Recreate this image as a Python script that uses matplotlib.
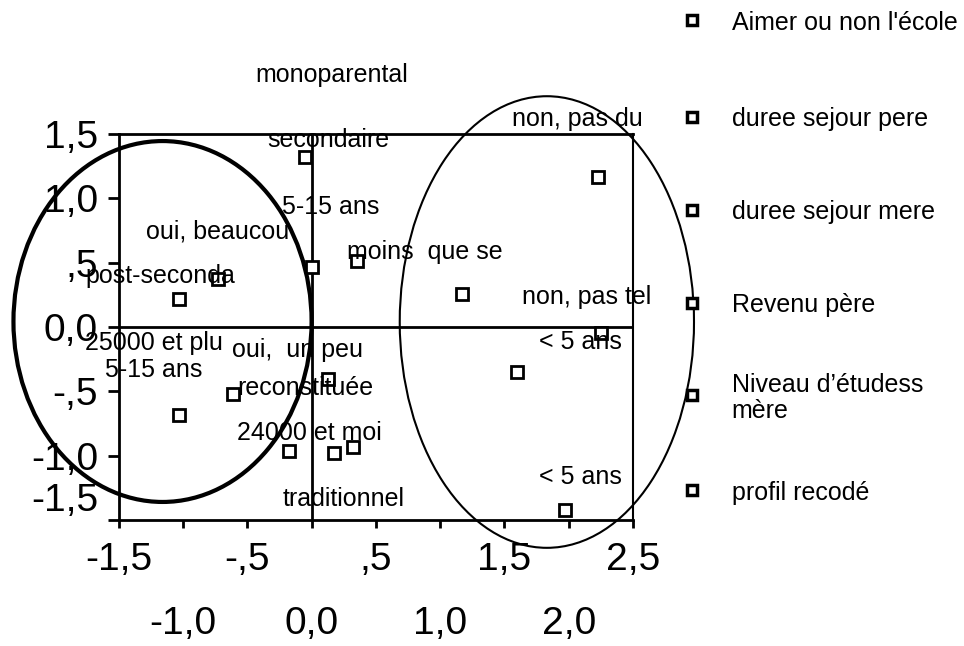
import numpy as np
import matplotlib.pyplot as plt
from matplotlib.patches import Ellipse

plt.rcParams['font.family'] = ['Liberation Sans', 'DejaVu Sans']

# coordonnees des points (dimension 1, dimension 2)
pt_x = [-0.05, 0.00, -0.73, -1.03, 2.23, 0.35, 1.17, 2.25, 1.60, 0.13, -0.61, -0.18, 0.17, 0.32, 1.97, -1.03]
pt_y = [1.32, 0.47, 0.37, 0.22, 1.17, 0.51, 0.26, -0.05, -0.35, -0.40, -0.52, -0.96, -0.98, -0.93, -1.42, -0.68]

# etiquettes des modalites
lab_text = ["monoparental", "secondaire", "non, pas du", "5-15 ans", "oui, beaucou",
            "moins  que se", "post-seconda", "non, pas tel", "25000 et plu", "oui,  un peu",
            "< 5 ans", "5-15 ans", "reconstituée", "24000 et moi", "< 5 ans", "traditionnel"]
lab_x = [0.155, 0.13, 2.07, 0.15, -0.73, 0.88, -1.18, 2.14, -1.23, -0.11, 2.09, -1.23, -0.05, -0.02, 2.09, 0.25]
lab_y = [1.96, 1.45, 1.62, 0.93, 0.74, 0.58, 0.40, 0.23, -0.125, -0.18, -0.115, -0.335, -0.47, -0.82, -1.165, -1.34]

legend_names = ["Aimer ou non l'école", "duree sejour pere", "duree sejour mere",
                "Revenu père", "Niveau d\u2019étudess\nmère", "profil recodé"]

xt_major = [-1.5, -0.5, 0.5, 1.5, 2.5]
xt_major_lab = ["-1,5", "-,5", ",5", "1,5", "2,5"]
xt_minor = [-1.0, 0.0, 1.0, 2.0]
xt_minor_lab = ["-1,0", "0,0", "1,0", "2,0"]
yt = [-1.5, -1.0, -0.5, 0.0, 0.5, 1.0, 1.5]
yt_lab = ["", "-1,0", "-,5", "0,0", ",5", "1,0", "1,5"]

fig = plt.figure(figsize=(9.64, 6.46), dpi=100)
ax = fig.add_axes([0.1234, 0.195, 0.5332, 0.5975])

ax.plot(pt_x, pt_y, 's', ms=9, mfc='white', mec='black', mew=2, zorder=5)
for t, x, y in zip(lab_text, lab_x, lab_y):
    ax.text(x, y, t, fontsize=18, ha='center', va='center', clip_on=False, zorder=6)

ax.axhline(0, color='black', lw=2)
ax.axvline(0, color='black', lw=2)

ax.add_patch(Ellipse((-1.161, 0.043), 2.32, 2.805, fill=False, ec='black', lw=3, clip_on=False))
ax.add_patch(Ellipse((1.83, 0.039), 2.29, 3.51, fill=False, ec='black', lw=1.5, clip_on=False))

ax.set_xlim(-1.5, 2.5)
ax.set_ylim(-1.5, 1.5)
for s in ax.spines.values():
    s.set_linewidth(2)
ax.spines['right'].set_linewidth(1.5)

ax.set_xticks(xt_major)
ax.set_xticklabels(xt_major_lab)
ax.set_xticks(xt_minor, minor=True)
ax.set_xticklabels(xt_minor_lab, minor=True)
ax.tick_params(axis='x', which='both', direction='out', length=6, width=2, labelsize=28)
ax.tick_params(axis='x', which='major', pad=10)
ax.tick_params(axis='x', which='minor', pad=56)
ax.set_yticks(yt)
ax.set_yticklabels(yt_lab)
ax.tick_params(axis='y', direction='out', length=8, width=2, labelsize=28, pad=7)
# le -1,5 est decale vers le haut dans l'original
ax.annotate("-1,5", xy=(0, -1.5), xycoords=('axes fraction', 'data'),
            xytext=(-21, 19), textcoords='offset pixels', ha='right', va='center',
            fontsize=28, annotation_clip=False)

# legende
leg_y = [0.969, 0.819, 0.675, 0.531, 0.389, 0.241]
for name, y in zip(legend_names, leg_y):
    fig.lines.append(plt.Line2D([0.718], [y], marker='s', ms=7.5, mfc='white', mec='black',
                                mew=2.5, transform=fig.transFigure))
    fig.text(0.759, y, name, fontsize=18, ha='left', va='center_baseline', linespacing=1.1)

plt.savefig("out.png", dpi=100)
